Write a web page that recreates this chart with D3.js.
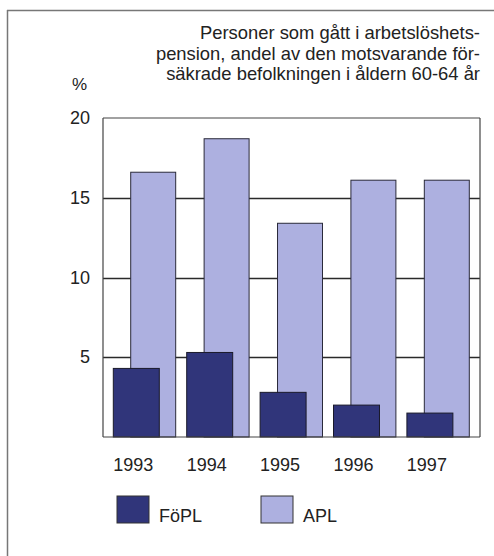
<!DOCTYPE html>
<html>
<head>
<meta charset="utf-8">
<script src="https://cdn.jsdelivr.net/npm/d3@7"></script>
<style>
  body { margin: 0; background: #fff; }
  svg text { font-family: "Liberation Sans", Arial, sans-serif; fill: #222; }
</style>
</head>
<body>
<div id="chart-area"></div>
<script>
// data
var years = ["1993", "1994", "1995", "1996", "1997"];
var fopl = [4.3, 5.3, 2.8, 2.0, 1.5];
var apl = [16.6, 18.7, 13.4, 16.1, 16.1];
var yTicks = [5, 10, 15, 20];
var titleLines = ["Personer som gått i arbetslöshets-",
                  "pension, andel av den motsvarande för-",
                  "säkrade befolkningen i åldern 60-64 år"];

var width = 494, height = 556;
var plot = {left: 103, right: 480, top: 118, bottom: 437};

var svg = d3.select("#chart-area").append("svg")
    .attr("width", width)
    .attr("height", height);

// outer frame (left and top edges)
svg.append("line")
    .attr("x1", 7.5).attr("x2", 7.5).attr("y1", 10).attr("y2", height)
    .style("stroke", "#777").style("stroke-width", "1.5px");
svg.append("line")
    .attr("x1", 7).attr("x2", width).attr("y1", 10.5).attr("y2", 10.5)
    .style("stroke", "#777").style("stroke-width", "1.5px");

// scales
var x = d3.scaleBand()
    .domain(years)
    .range([107.8, 474.8])
    .paddingInner(0.15)
    .paddingOuter(0.075);

var y = d3.scaleLinear()
    .domain([0, 20])
    .range([plot.bottom, plot.top]);

// grid lines, snapped to pixel centres
yTicks.slice(0, 3).forEach(function(t) {
  var yy = Math.round(y(t)) + 0.5;
  svg.append("line")
    .attr("x1", plot.left).attr("x2", plot.right)
    .attr("y1", yy).attr("y2", yy)
    .style("stroke", "#2a2a2a")
    .style("stroke-width", "1.4px");
});

// light bars (APL)
var bw = x.bandwidth();
svg.selectAll(".apl").data(apl)
  .enter().append("rect")
    .attr("class", "apl")
    .attr("x", function(d, i) { return x(years[i]) + bw * 0.279; })
    .attr("y", function(d) { return y(d); })
    .attr("width", bw * 0.721)
    .attr("height", function(d) { return y(0) - y(d); })
    .attr("fill", "#adb0e0")
    .attr("stroke", "#2a2a3a")
    .attr("stroke-width", 1);

// dark bars (FöPL)
svg.selectAll(".fopl").data(fopl)
  .enter().append("rect")
    .attr("class", "fopl")
    .attr("x", function(d, i) { return x(years[i]); })
    .attr("y", function(d) { return y(d); })
    .attr("width", bw * 0.737)
    .attr("height", function(d) { return y(0) - y(d); })
    .attr("fill", "#30357a")
    .attr("stroke", "#1a1a2a")
    .attr("stroke-width", 1);

// plot border
[[plot.left, plot.top, plot.right, plot.top],
 [plot.left, plot.bottom, plot.right, plot.bottom],
 [plot.left, plot.top, plot.left, plot.bottom],
 [plot.right, plot.top, plot.right, plot.bottom]].forEach(function(s) {
  svg.append("line")
    .attr("x1", s[0]).attr("y1", s[1]).attr("x2", s[2]).attr("y2", s[3])
    .style("stroke", "#444")
    .style("stroke-width", "1.2px");
});

// y tick labels
svg.selectAll(".ylab").data(yTicks)
  .enter().append("text")
    .attr("class", "ylab")
    .attr("x", 90)
    .attr("y", function(d) { return y(d) + 6; })
    .attr("text-anchor", "end")
    .style("font-size", "18px")
    .text(function(d) { return d; });

svg.append("text")
    .attr("x", 72)
    .attr("y", 90)
    .style("font-size", "17px")
    .text("%");

// x labels
svg.selectAll(".xlab").data(years)
  .enter().append("text")
    .attr("class", "xlab")
    .attr("x", function(d) { return x(d) + bw * 0.32; })
    .attr("y", 471)
    .attr("text-anchor", "middle")
    .style("font-size", "18px")
    .text(function(d) { return d; });

// title
svg.selectAll(".title").data(titleLines)
  .enter().append("text")
    .attr("class", "title")
    .attr("x", 480)
    .attr("y", function(d, i) { return 39 + i * 20.5; })
    .attr("text-anchor", "end")
    .style("font-size", "18.4px")
    .text(function(d) { return d; });

// legend
var legend = [{name: "FöPL", color: "#30357a", x: 117},
              {name: "APL", color: "#adb0e0", x: 261}];
var lg = svg.selectAll(".legend").data(legend)
  .enter().append("g")
    .attr("class", "legend")
    .attr("transform", function(d) { return "translate(" + d.x + ",496)"; });
lg.append("rect")
    .attr("width", 32).attr("height", 27)
    .attr("fill", function(d) { return d.color; })
    .attr("stroke", "#333")
    .attr("stroke-width", 1);
lg.append("text")
    .attr("x", 42).attr("y", 26)
    .style("font-size", "18px")
    .text(function(d) { return d.name; });
</script>
</body>
</html>
